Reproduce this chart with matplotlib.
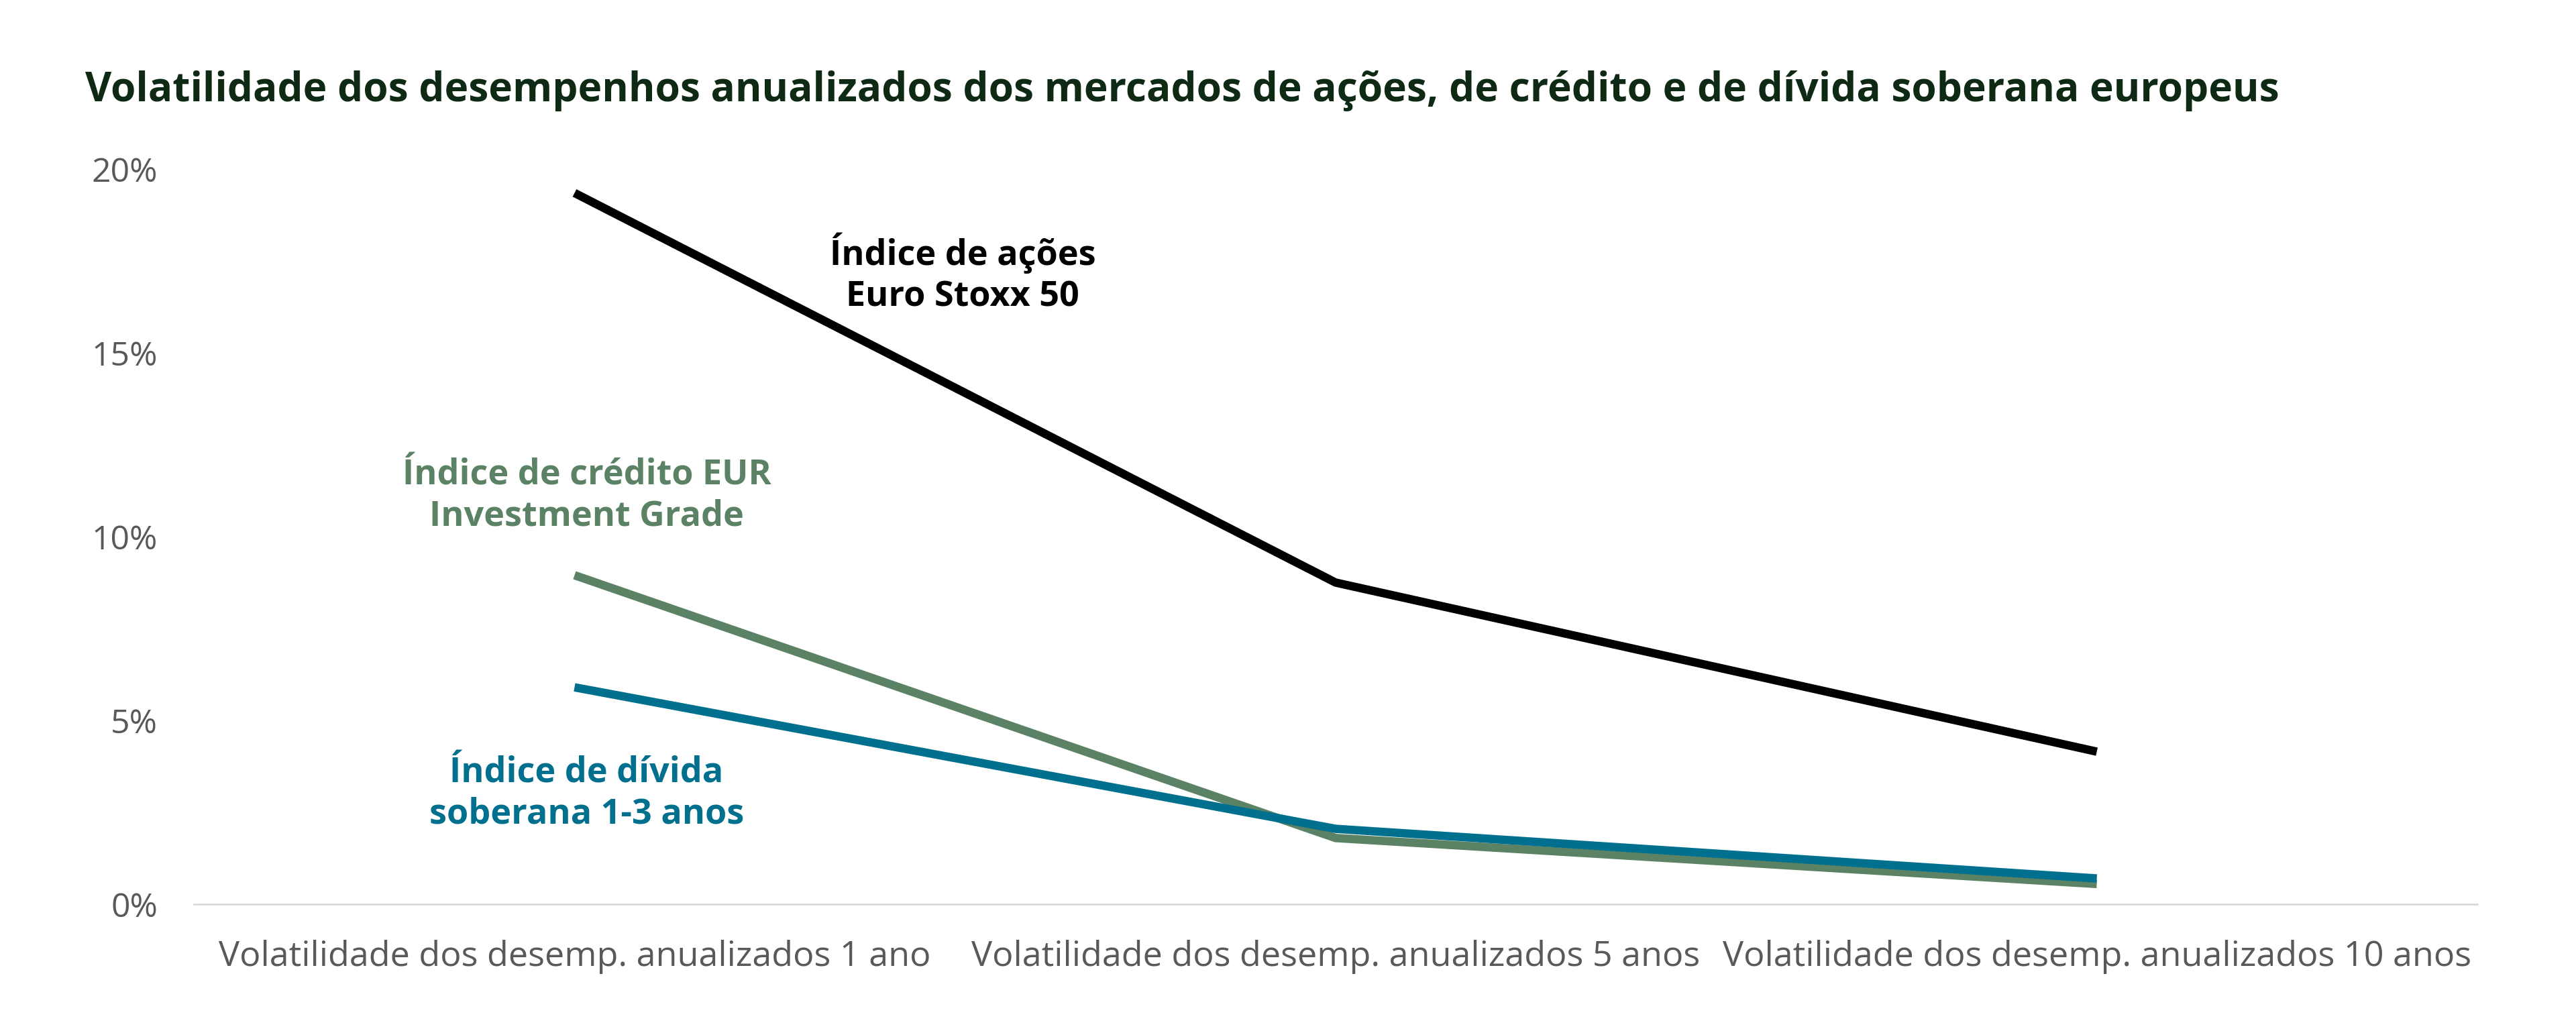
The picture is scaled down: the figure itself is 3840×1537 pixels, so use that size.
import matplotlib
matplotlib.use('Agg')
import matplotlib.pyplot as plt
from matplotlib.ticker import FuncFormatter

plt.rcParams['font.family'] = ['Open Sans', 'DejaVu Sans']

categories = ['Volatilidade dos desemp. anualizados 1 ano',
              'Volatilidade dos desemp. anualizados 5 anos',
              'Volatilidade dos desemp. anualizados 10 anos']
acoes = [19.35, 8.75, 4.15]
credito = [8.95, 1.8, 0.55]
divida = [5.9, 2.05, 0.7]

c_black = '#000000'
c_green = '#5b8264'
c_blue = '#00708e'

fig = plt.figure(figsize=(38.4, 15.37), dpi=100)
ax = fig.add_axes([0.0753, 0.123, 0.8864, 0.713])

x = range(len(categories))
ax.plot(x, credito, color=c_green, linewidth=9, solid_capstyle='butt')
ax.plot(x, divida, color=c_blue, linewidth=9, solid_capstyle='butt')
ax.plot(x, acoes, color=c_black, linewidth=9, solid_capstyle='butt')

ax.set_xlim(-0.5, 2.5)
ax.set_ylim(0, 20)
ax.set_yticks([0, 5, 10, 15, 20])
ax.yaxis.set_major_formatter(FuncFormatter(lambda v, p: f'{v:.0f}%'))
ax.set_xticks(list(x))
ax.set_xticklabels(categories)
ax.tick_params(axis='both', length=0, labelsize=36, colors='#595959')
ax.tick_params(axis='x', labelsize=37.5, pad=38)
ax.tick_params(axis='y', pad=39)

for s in ['top', 'right', 'left']:
    ax.spines[s].set_visible(False)
ax.spines['bottom'].set_color('#d9d9d9')
ax.spines['bottom'].set_linewidth(2)

ax.text(0.51, 17.15, 'Índice de ações\nEuro Stoxx 50', ha='center', va='center',
        fontsize=37.5, fontweight='bold', color=c_black, linespacing=1.2)
ax.text(0.016, 11.1, 'Índice de crédito EUR\nInvestment Grade', ha='center', va='center',
        fontsize=37.5, fontweight='bold', color=c_green, linespacing=1.2)
ax.text(0.016, 3.0, 'Índice de dívida\nsoberana 1-3 anos', ha='center', va='center',
        fontsize=37.5, fontweight='bold', color=c_blue, linespacing=1.2)

fig.text(0.033, 0.912, 'Volatilidade dos desempenhos anualizados dos mercados de ações, de crédito e de dívida soberana europeus',
         ha='left', va='center', fontsize=43.5, fontweight='bold', color='#0f2a14')

fig.savefig('out.png', dpi=100, facecolor='white')
